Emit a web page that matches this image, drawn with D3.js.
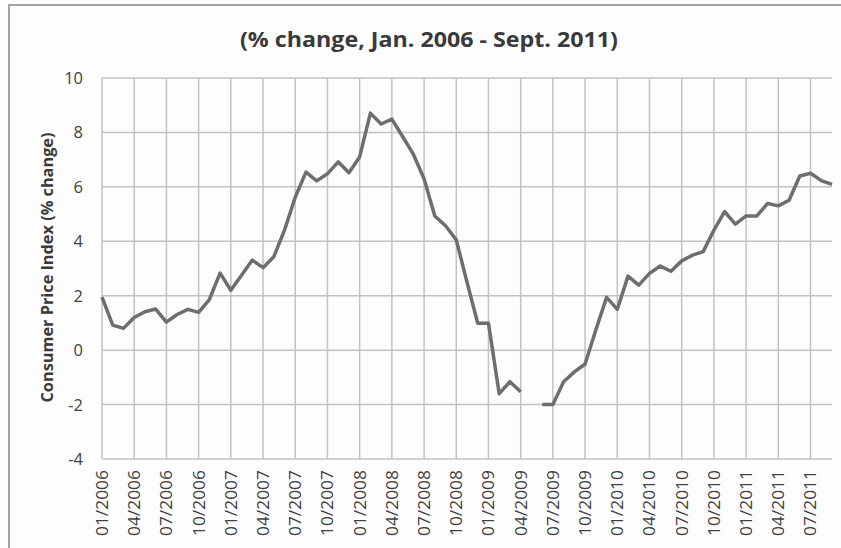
<!DOCTYPE html>
<html>
<head>
<meta charset="utf-8">
<script src="https://cdn.jsdelivr.net/npm/d3@7"></script>
<style>
  html, body { margin: 0; padding: 0; background: #fdfdfd; }
  svg { display: block; }
</style>
</head>
<body>
<div id="chart"></div>
<script>
// Monthly CPI % change, Jan 2006 - Sept 2011 (null = missing month)
const years = [2006, 2007, 2008, 2009, 2010, 2011];
const cpi = [
  1.95, 0.92, 0.8, 1.2, 1.41, 1.51, 1.03, 1.31, 1.5, 1.39, 1.86, 2.83,   // 2006
  2.2, 2.75, 3.31, 3.03, 3.43, 4.41, 5.62, 6.54, 6.22, 6.48, 6.92, 6.52, // 2007
  7.1, 8.71, 8.31, 8.49, 7.85, 7.2, 6.3, 4.93, 4.57, 4.05, 2.5, 0.99,     // 2008
  0.99, -1.6, -1.16, -1.53, null, -2.0, -2.0, -1.16, -0.8, -0.51, 0.74, 1.94, // 2009
  1.5, 2.72, 2.39, 2.82, 3.09, 2.9, 3.28, 3.49, 3.62, 4.41, 5.09, 4.63,  // 2010
  4.93, 4.93, 5.39, 5.3, 5.51, 6.4, 6.5, 6.23, 6.09                       // 2011
];
const months = cpi.map((d, i) => {
  const m = i % 12 + 1;
  return (m < 10 ? '0' + m : '' + m) + '/' + years[Math.floor(i / 12)];
});
const yTicks = [-4, -2, 0, 2, 4, 6, 8, 10];
const title = '(% change, Jan. 2006 - Sept. 2011)';
const yLabel = 'Consumer Price Index (% change)';

const width = 841;
const height = 548;
const margin = { top: 78, right: 9, bottom: 89, left: 102 };

const svg = d3.select('#chart')
  .append('svg')
  .attr('width', width)
  .attr('height', height);

// frame
svg.append('path')
  .attr('d', `M9,${height}V5H${width}`)
  .attr('fill', 'none')
  .attr('stroke', '#a3a3a3')
  .attr('stroke-width', 2);

const x = d3.scalePoint()
  .domain(months)
  .range([margin.left, width - margin.right]);

const y = d3.scaleLinear()
  .domain([-4, 10])
  .range([height - margin.bottom, margin.top]);

const gridColor = '#c2c2c2';

// horizontal gridlines
svg.append('g')
  .selectAll('line')
  .data(yTicks)
  .join('line')
  .attr('x1', margin.left)
  .attr('x2', width - margin.right)
  .attr('y1', d => y(d))
  .attr('y2', d => y(d))
  .attr('stroke', gridColor)
  .attr('stroke-width', 1.5);

// vertical gridlines every quarter
const quarterMonths = months.filter((d, i) => i % 3 === 0);
svg.append('g')
  .selectAll('line')
  .data(quarterMonths)
  .join('line')
  .attr('x1', d => x(d))
  .attr('x2', d => x(d))
  .attr('y1', y(10))
  .attr('y2', y(-4))
  .attr('stroke', gridColor)
  .attr('stroke-width', 1.5);

// Y tick labels
svg.append('g')
  .selectAll('text')
  .data(yTicks)
  .join('text')
  .attr('x', 83)
  .attr('y', d => y(d))
  .attr('dy', '0.36em')
  .attr('text-anchor', 'end')
  .attr('fill', '#404040')
  .attr('font-family', 'Open Sans, sans-serif')
  .attr('font-size', '16.5px')
  .text(d => d);

// X tick labels
svg.append('g')
  .selectAll('text')
  .data(quarterMonths)
  .join('text')
  .attr('transform', d => `translate(${x(d)},${y(-4) + 11}) rotate(-90)`)
  .attr('dy', '0.36em')
  .attr('text-anchor', 'end')
  .attr('fill', '#404040')
  .attr('font-family', 'Open Sans, sans-serif')
  .attr('font-size', '16.5px')
  .attr('textLength', 66)
  .attr('lengthAdjust', 'spacingAndGlyphs')
  .text(d => d);

// CPI line (gap where value is missing)
const line = d3.line()
  .defined(d => d.v !== null)
  .x(d => x(d.m))
  .y(d => y(d.v));

svg.append('path')
  .datum(cpi.map((v, i) => ({ m: months[i], v: v })))
  .attr('fill', 'none')
  .attr('stroke', '#6e6e6e')
  .attr('stroke-width', 3.5)
  .attr('stroke-linejoin', 'round')
  .attr('d', line);

// Title
svg.append('text')
  .attr('x', 429)
  .attr('y', 47)
  .attr('text-anchor', 'middle')
  .attr('fill', '#3a3a3a')
  .attr('font-family', 'Open Sans, sans-serif')
  .attr('font-size', '22px')
  .attr('font-weight', 'bold')
  .attr('textLength', 378)
  .attr('lengthAdjust', 'spacingAndGlyphs')
  .text(title);

// Y axis label
svg.append('text')
  .attr('transform', `translate(47,${(y(10) + y(-4)) / 2 - 1}) rotate(-90)`)
  .attr('dy', '0.36em')
  .attr('text-anchor', 'middle')
  .attr('fill', '#3a3a3a')
  .attr('font-family', 'Open Sans, sans-serif')
  .attr('font-size', '15.5px')
  .attr('font-weight', 'bold')
  .attr('textLength', 270)
  .attr('lengthAdjust', 'spacingAndGlyphs')
  .text(yLabel);
</script>
</body>
</html>
